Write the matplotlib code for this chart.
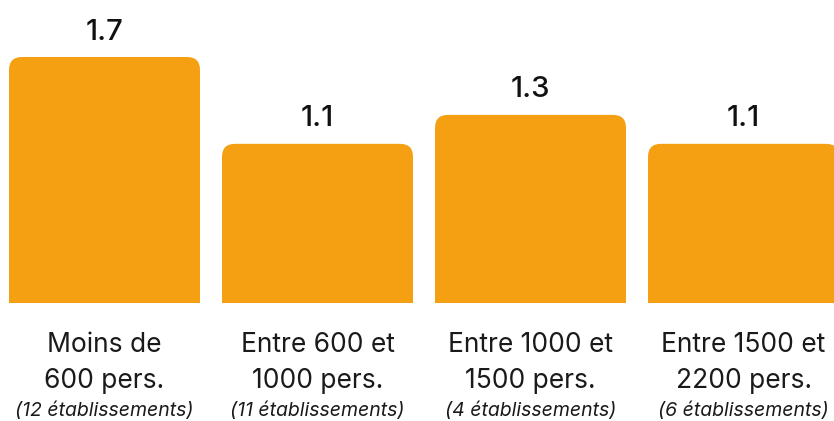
import matplotlib
matplotlib.use("Agg")
from matplotlib import pyplot as plt
from matplotlib.patches import FancyBboxPatch, Rectangle
import matplotlib.transforms as mtransforms

# taux par taille d'établissement
categories = ["Moins de\n600 pers.", "Entre 600 et\n1000 pers.",
              "Entre 1000 et\n1500 pers.", "Entre 1500 et\n2200 pers."]
counts = ["(12 établissements)", "(11 établissements)",
          "(4 établissements)", "(6 établissements)"]
values = [1.7, 1.1, 1.3, 1.1]

orange = "#F59F12"
W, H = 834, 421

plt.rcParams['font.family'] = ['Inter', 'DejaVu Sans']

fig = plt.figure(figsize=(W / 100, H / 100), dpi=100)
ax = fig.add_axes([0, (H - 303) / H, 1, 303 / H])

spacing = 213.0  # px between bar centres
x0 = 104.5 / spacing
width = 191 / spacing
ax.set_xlim(-x0, (W - 104.5) / spacing)
ax.set_ylim(0, 303 / 144.7)
ax.axis("off")

xs = list(range(len(values)))
bars = ax.bar(xs, values, width=width, color=orange)

# rounded tops: replace each bar with a rounded box + square bottom
r = 13 / spacing
aspect = (1 / 144.7) / (1 / spacing)
for b in bars:
    x, y, w, h = b.get_x(), b.get_y(), b.get_width(), b.get_height()
    b.set_visible(False)
    ax.add_patch(FancyBboxPatch((x, y), w, h,
                                boxstyle="round,pad=0,rounding_size=%f" % r,
                                mutation_aspect=aspect, fc=orange, ec="none"))
    ax.add_patch(Rectangle((x, y), w, h / 2, fc=orange, ec="none"))

for x, v in zip(xs, values):
    ax.annotate("%.1f" % v, (x, v), xytext=(0, 25), textcoords="offset pixels",
                ha="center", va="center", fontsize=21, fontweight="medium",
                color="#111111")

tr = mtransforms.blended_transform_factory(ax.transData, fig.transFigure)
for x, cat, n in zip(xs, categories, counts):
    l1, l2 = cat.split("\n")
    ax.text(x, (H - 345) / H, l1, transform=tr, ha="center", va="center",
            fontsize=19, color="#1a1a1a")
    ax.text(x, (H - 381) / H, l2, transform=tr, ha="center", va="center",
            fontsize=19, color="#1a1a1a")
    ax.text(x, (H - 411) / H, n, transform=tr, ha="center", va="center",
            fontsize=14, style="italic", color="#1a1a1a")

fig.savefig("out.png", dpi=100)
